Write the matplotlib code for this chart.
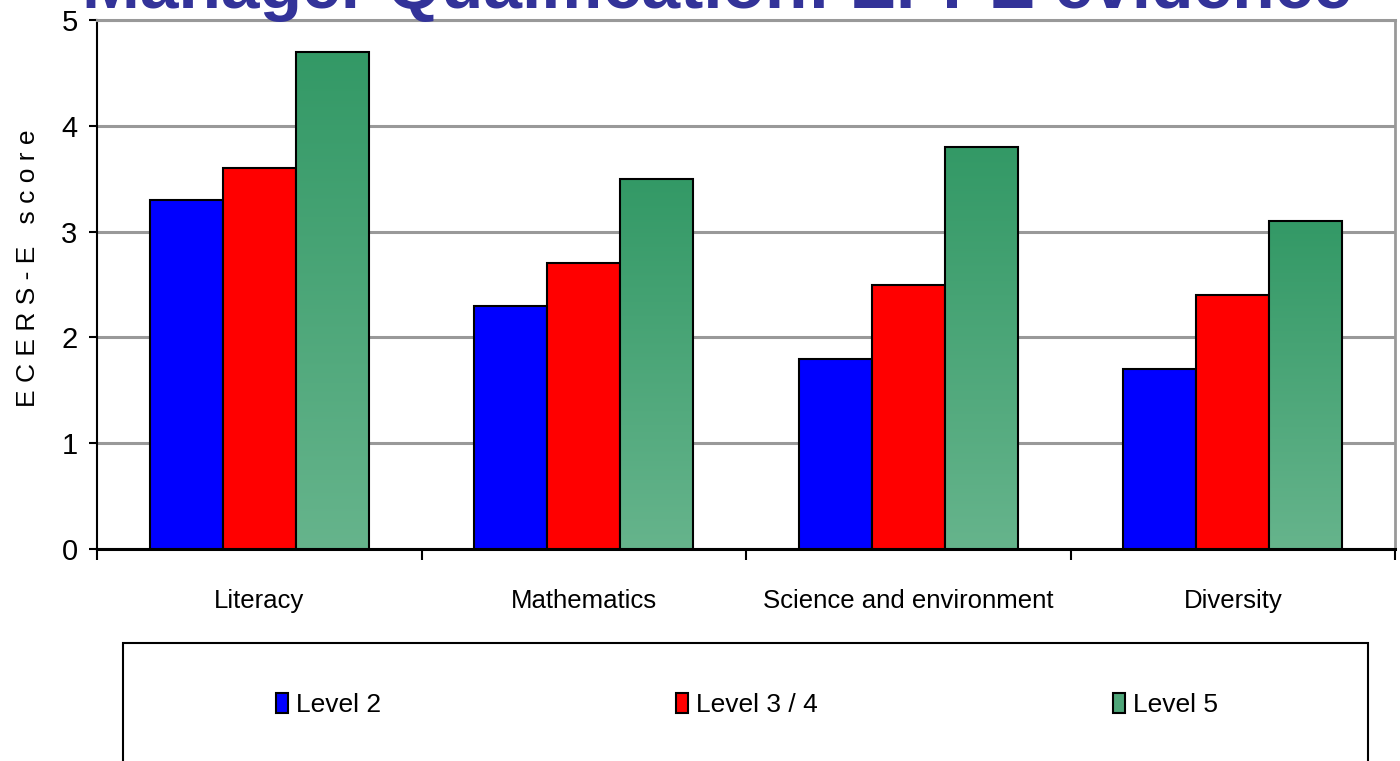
import numpy as np
import matplotlib
matplotlib.use('Agg')
import matplotlib.pyplot as plt
from matplotlib.colors import LinearSegmentedColormap
from matplotlib.patches import Rectangle, Patch

plt.rcParams['font.family'] = ['Liberation Sans', 'DejaVu Sans']

# Data
categories = ['Literacy', 'Mathematics', 'Science and environment', 'Diversity']
levels = ['Level 2', 'Level 3 / 4', 'Level 5']
level2 = [3.3, 2.3, 1.8, 1.7]
level34 = [3.6, 2.7, 2.5, 2.4]
level5 = [4.7, 3.5, 3.8, 3.1]

title = 'Manager Qualification: EPPE evidence'
ylabel = 'E C E R S - E   s c o r e'

fig = plt.figure(figsize=(14, 7.61), dpi=100)
ax = fig.add_axes([97 / 1400, 1 - 549 / 761, 1298 / 1400, 529 / 761])

x = np.arange(len(categories))
w = 0.225
bars2 = ax.bar(x - w, level2, w, color='#0000ff', edgecolor='black', linewidth=1.5, zorder=3)
bars34 = ax.bar(x, level34, w, color='#ff0000', edgecolor='black', linewidth=1.5, zorder=3)
bars5 = ax.bar(x + w, level5, w, color='none', edgecolor='black', linewidth=1.5, zorder=4)

# vertical gradient fill for the level 5 bars (light at bottom, dark at top)
green_cmap = LinearSegmentedColormap.from_list('grn', ['#66b48c', '#339966'])
grad = np.linspace(0, 1, 256).reshape(-1, 1)
for rect in bars5:
    x0 = rect.get_x()
    im = ax.imshow(grad, extent=[x0, x0 + rect.get_width(), 0, rect.get_height()],
                   aspect='auto', origin='lower', cmap=green_cmap, zorder=3)
    im.set_clip_path(rect)

ax.set_xlim(-0.5, len(categories) - 0.5)
ax.set_ylim(0, 5)

ax.set_yticks(range(6))
ax.yaxis.grid(True, color='#999999', linewidth=2.2)
ax.set_axisbelow(True)
ax.tick_params(axis='y', direction='out', length=6, width=1.5, pad=8, labelsize=21)

ax.set_xticks(x)
ax.set_xticklabels(categories, fontsize=18.5)
ax.set_xticks(np.arange(len(categories) + 1) - 0.5, minor=True)
ax.tick_params(axis='x', which='major', length=0, pad=29)
ax.tick_params(axis='x', which='minor', direction='out', length=8, width=1.5)

ax.spines['left'].set_linewidth(1.5)
ax.spines['bottom'].set_linewidth(2.2)
ax.spines['right'].set_color('#999999')
ax.spines['right'].set_linewidth(2)
ax.spines['top'].set_color('#999999')
ax.spines['top'].set_linewidth(2.2)

fig.text(28 / 1400, 1 - 268 / 761, ylabel, rotation=90, fontsize=19,
         ha='center', va='center')

# the title runs off the top edge, as in the original slide
fig.text(717 / 1400, 1 - 8 / 761, title, fontsize=50, fontweight='bold',
         color='#333399', ha='center', va='baseline', zorder=10)

# legend box, cut off by the bottom of the picture
fig.add_artist(Rectangle((123 / 1400, -0.05), (1368 - 123) / 1400, 0.05 + (761 - 643) / 761,
                         transform=fig.transFigure, facecolor='white',
                         edgecolor='black', linewidth=1.5, zorder=1))
handles = [Patch(facecolor='#0000ff', edgecolor='black', linewidth=1.5),
           Patch(facecolor='#ff0000', edgecolor='black', linewidth=1.5),
           Patch(facecolor='#4fa679', edgecolor='black', linewidth=1.5)]
leg = fig.legend(handles, levels, ncol=3, frameon=False, loc='center',
                 bbox_to_anchor=(747 / 1400, 1 - 705 / 761), fontsize=19,
                 handlelength=0.45, handleheight=0.8, handletextpad=0.3,
                 columnspacing=11.2)
leg.set_zorder(5)

fig.savefig('out.png', dpi=100)
